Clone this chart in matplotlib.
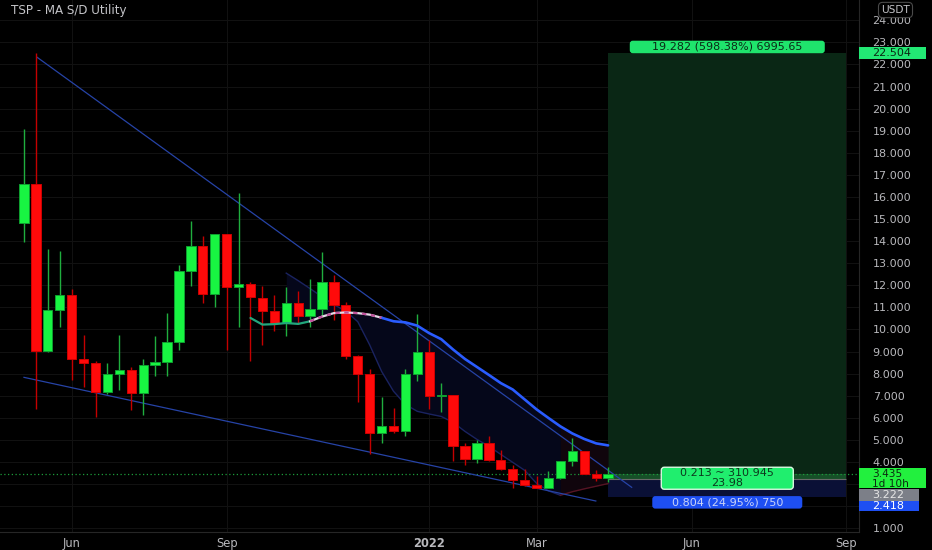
import numpy as np
import matplotlib
matplotlib.use("Agg")
import matplotlib.pyplot as plt
from matplotlib.patches import Rectangle, FancyBboxPatch

# ---------------- data ----------------
title = "TSP - MA S/D Utility"

# weekly candles starting 2021-05-03 (bar index 0)
opens = [14.84, 16.59, 9.04, 10.86, 11.54, 8.68, 8.47, 7.18, 7.99, 8.18,
         7.13, 8.37, 8.52, 9.44, 12.66, 13.79, 11.62, 14.32, 11.92, 12.07,
         11.44, 10.85, 10.30, 11.18, 10.59, 10.93, 12.13, 11.11, 8.79, 7.99,
         5.32, 5.63, 5.38, 7.96, 8.98, 6.98, 7.01, 4.72, 4.14, 4.84,
         4.08, 3.69, 3.17, 2.96, 2.84, 3.29, 4.05, 4.50, 3.46, 3.26]
highs = [19.07, 22.50, 13.64, 13.53, 11.85, 9.73, 8.56, 8.50, 9.77, 8.30,
         8.64, 9.69, 10.75, 12.93, 14.90, 14.21, 14.32, 14.32, 16.17, 12.13,
         11.98, 11.56, 11.92, 11.75, 12.28, 13.49, 12.48, 11.23, 8.83, 8.23,
         6.95, 6.45, 8.23, 10.72, 9.51, 7.58, 7.01, 4.87, 4.98, 5.16,
         4.52, 3.86, 3.69, 3.34, 3.59, 4.05, 5.07, 4.50, 3.62, 3.79]
lows = [13.94, 6.38, 8.97, 10.10, 7.69, 7.40, 6.03, 7.06, 7.28, 6.35,
        6.11, 7.88, 7.91, 9.09, 11.98, 11.20, 11.00, 9.09, 10.10, 8.56,
        9.31, 9.92, 9.72, 10.26, 10.10, 10.59, 10.44, 8.68, 6.71, 4.34,
        4.87, 5.32, 5.17, 7.66, 6.38, 6.27, 4.04, 3.86, 3.94, 4.05,
        3.63, 2.84, 2.92, 2.80, 2.84, 3.21, 3.81, 3.46, 3.14, 3.09]
closes = [16.59, 9.04, 10.86, 11.54, 8.68, 8.47, 7.18, 7.99, 8.18, 7.13,
          8.37, 8.53, 9.44, 12.66, 13.79, 11.62, 14.32, 11.91, 12.07, 11.45,
          10.85, 10.30, 11.18, 10.59, 10.93, 12.13, 11.11, 8.79, 7.99, 5.32,
          5.63, 5.38, 7.96, 8.98, 6.98, 7.02, 4.72, 4.14, 4.84, 4.08,
          3.69, 3.17, 2.96, 2.84, 3.29, 4.05, 4.50, 3.46, 3.26, 3.435]

# moving average lines
ma_fast_start = 19
ma_fast = [10.52, 10.22, 10.24, 10.29, 10.25, 10.37, 10.58, 10.74, 10.77, 10.74,
           10.67, 10.53, 10.37, 10.32, 10.17, 9.83, 9.56, 9.09, 8.66, 8.30,
           7.94, 7.57, 7.28, 6.83, 6.38, 5.99, 5.61, 5.29, 5.04, 4.84, 4.75]
ma_fast_teal_end = 24
ma_fast_pink_end = 30
ma_slow_start = 22
ma_slow = [12.55, 12.21, 11.85, 11.48, 11.12, 10.83, 10.35, 9.30, 8.10, 7.20,
           6.60, 6.29, 6.17, 6.06, 5.79, 5.38, 5.02, 4.71, 4.34, 3.98,
           3.62, 3.03, 2.69, 2.49, 2.65, 2.78, 2.90, 3.02]
ma_slow_red_start = 45

# trend lines (bar index, price)
upper_trend_x = [1.09, 50.98]
upper_trend_y = [22.33, 2.85]
lower_trend_x = [0.0, 47.97]
lower_trend_y = [7.83, 2.23]

# long position tool
pos_start, pos_end = 49, 69
entry_price, target_price, stop_price, last_price = 3.222, 22.504, 2.418, 3.435
target_text = "19.282 (598.38%) 6995.65"
open_text = "0.213 ~ 310.945\n23.98"
stop_text = "0.804 (24.95%) 750"
countdown_text = "1d 10h"

month_ticks = [4, 17, 34, 43, 56, 69]
month_labels = ["Jun", "Sep", "2022", "Mar", "Jun", "Sep"]
price_ticks = list(range(1, 25))
hidden_price_ticks = [2, 3]   # covered by the price tags in the reference

# ---------------- style ----------------
BG = "#000000"
GRID = "#111111"
TXT = "#b8b8bc"
UP, DN = "#18f542", "#ff0a0a"
UP_EDGE, DN_EDGE = "#0fa030", "#d00000"
UP_WICK, DN_WICK = "#1fae3e", "#c40000"

W, H = 932, 550
fig = plt.figure(figsize=(W / 100, H / 100), dpi=100, facecolor=BG)
plot_left, plot_right, plot_bottom = 0, 859, 531.7
ax = fig.add_axes([plot_left / W, (H - plot_bottom) / H, (plot_right - plot_left) / W, plot_bottom / H])
ax.set_facecolor(BG)

ymin, ymax = 0.84, 24.92
xmin, xmax = -2.013, 70.05
ax.set_xlim(xmin, xmax)
ax.set_ylim(ymin, ymax)
ax_w_px = plot_right - plot_left
ax_h_px = plot_bottom
upx = (xmax - xmin) / ax_w_px   # bars per pixel
upy = (ymax - ymin) / ax_h_px   # price per pixel

# grid & axes
ax.set_yticks(price_ticks)
ax.set_yticklabels(["" if v in hidden_price_ticks else f"{v:.3f}" for v in price_ticks])
ax.yaxis.tick_right()
ax.tick_params(axis="y", length=0, pad=9.8, labelsize=8, labelcolor=TXT)
ax.set_xticks(month_ticks)
ax.set_xticklabels(month_labels)
ax.tick_params(axis="x", length=0, pad=3.5, labelsize=8.3, labelcolor=TXT)
for lbl in ax.get_xticklabels():
    if lbl.get_text().isdigit():
        lbl.set_fontweight("bold")
ax.grid(True, color=GRID, lw=0.8, zorder=0)
ax.set_axisbelow(True)
for s in ["top", "left"]:
    ax.spines[s].set_visible(False)
for s in ["right", "bottom"]:
    ax.spines[s].set_color("#262626")
    ax.spines[s].set_linewidth(0.8)

x = np.arange(len(opens))
o = np.array(opens); c = np.array(closes)
hi = np.array(highs); lo = np.array(lows)
up = c >= o

# position tool zones
ax.add_patch(Rectangle((pos_start, entry_price), pos_end - pos_start, target_price - entry_price,
                       facecolor="#0a2715", edgecolor="none", zorder=1))
ax.add_patch(Rectangle((pos_start, entry_price), pos_end - pos_start, last_price - entry_price,
                       facecolor="#164f28", edgecolor="none", zorder=1.1))
ax.add_patch(Rectangle((pos_start, stop_price), pos_end - pos_start, entry_price - stop_price,
                       facecolor="#0a1036", edgecolor="none", zorder=1))
ax.hlines(entry_price, pos_start, pos_end, color="#6a6a6a", lw=0.8, zorder=1.2)

# fill between MAs
xf = np.arange(ma_fast_start, ma_fast_start + len(ma_fast))
xs = np.arange(ma_slow_start, ma_slow_start + len(ma_slow))
fast_arr = np.array(ma_fast)
slow_arr = np.array(ma_slow)
fast_on_slow = fast_arr[ma_slow_start - ma_fast_start:]
m1 = xs <= ma_slow_red_start
m2 = xs >= ma_slow_red_start
ax.fill_between(xs[m1], fast_on_slow[m1], slow_arr[m1], color="#05071a", lw=0, zorder=1.3)
ax.fill_between(xs[m2], fast_on_slow[m2], slow_arr[m2], color="#10050c", lw=0, zorder=1.3)

# slow MA
ax.plot(xs[m1], slow_arr[m1], color="#1a2360", lw=1.0, zorder=2)
ax.plot(xs[m2], slow_arr[m2], color="#561424", lw=1.0, zorder=2)

# trend lines
ax.plot(upper_trend_x, upper_trend_y, color="#2643a6", lw=0.9, zorder=2.2)
ax.plot(lower_trend_x, lower_trend_y, color="#2643a6", lw=0.9, zorder=2.2)

# current price dotted line
ax.axhline(last_price, color="#1c9c3a", ls=(0, (1, 2)), lw=0.9, zorder=2.1)

# fast MA (colored segments)
mt = xf <= ma_fast_teal_end
mp = (xf >= ma_fast_teal_end) & (xf <= ma_fast_pink_end)
mb = xf >= ma_fast_pink_end
ax.plot(xf[mt], fast_arr[mt], color="#22a77c", lw=1.6, zorder=5, solid_capstyle="round")
ax.plot(xf[mp], fast_arr[mp], color="#e4dde6", lw=1.6, zorder=5)
ax.plot(xf[mp], fast_arr[mp], color="#c0509a", lw=1.6, ls=(0, (2, 2)), zorder=5.1)
ax.plot(xf[mb], fast_arr[mb], color="#2a5cff", lw=1.9, zorder=5, solid_capstyle="round")

# candles
ax.vlines(x[up], lo[up], hi[up], colors=UP_WICK, lw=1.0, zorder=3)
ax.vlines(x[~up], lo[~up], hi[~up], colors=DN_WICK, lw=1.0, zorder=3)
body_h = np.maximum(np.abs(c - o), 1.2 * upy)
body_b = np.minimum(o, c)
ax.bar(x[up], body_h[up], bottom=body_b[up], width=0.78, color=UP, edgecolor=UP_EDGE, lw=0.7, zorder=4)
ax.bar(x[~up], body_h[~up], bottom=body_b[~up], width=0.78, color=DN, edgecolor=DN_EDGE, lw=0.7, zorder=4)

# position labels
asp = upy / upx
def label_box(axis, cx, cy, wpx, hpx, fc, ec, lw, text, tc, fs, rad_px=3):
    w = wpx * upx
    h = hpx * upy
    p = FancyBboxPatch((cx - w / 2, cy - h / 2), w, h,
                       boxstyle="round,pad=0,rounding_size=%f" % (rad_px * upx),
                       mutation_aspect=asp, facecolor=fc, edgecolor=ec, lw=lw, zorder=8)
    axis.add_patch(p)
    axis.text(cx, cy, text, ha="center", va="center", color=tc, fontsize=fs,
              linespacing=0.95, zorder=9)

cx_pos = (pos_start + pos_end) / 2
label_box(ax, cx_pos, target_price + 6.4 * upy, 195, 12.5, "#1fe46c", "none", 0,
          target_text, "#0b2a16", 8)
label_box(ax, cx_pos, entry_price + 0.5 * (last_price - entry_price) - 1.5 * upy, 132, 22, "#20ee6e", "#d8f8e0", 1.0,
          open_text, "#0d3a1e", 8)
label_box(ax, cx_pos, stop_price - 5.5 * upy, 150, 12.5, "#1e4ff2", "none", 0,
          stop_text, "#c9d3f7", 8)

# title
fig.text(11 / W, 1 - 10.5 / H, title, color="#c4c4c8", fontsize=8.6, ha="left", va="center")

# price scale overlay
axr = fig.add_axes([plot_right / W, (H - plot_bottom) / H, (W - plot_right) / W, plot_bottom / H], sharey=ax)
axr.set_xlim(0, W - plot_right)
axr.axis("off")

def price_box(value, off_px, hpx, wpx, fc, text, tc):
    center = value - off_px * upy
    axr.add_patch(Rectangle((0, center - hpx / 2 * upy), wpx, hpx * upy, facecolor=fc, edgecolor="none", zorder=5))
    axr.text(13.5, center, text, ha="left", va="center", color=tc, fontsize=8, zorder=6)

# target
price_box(target_price, 0, 12, 67, "#22e874", f"{target_price:.3f}", "#0b2a14")
# last price + countdown
axr.add_patch(Rectangle((0, last_price - 13.6 * upy), 67, 20 * upy, facecolor="#22f03e", edgecolor="none", zorder=5))
axr.text(13.5, last_price + 5.0 * upy, f"{last_price:.3f}\n{countdown_text}", ha="left", va="top",
         color="#0b2a10", fontsize=7.6, linespacing=0.92, zorder=6)
# entry
price_box(entry_price, 16, 12, 60, "#7c7f88", f"{entry_price:.3f}", "#e6e6e6")
# stop
price_box(stop_price, 9, 10.5, 60, "#1e4ff2", f"{stop_price:.3f}", "#ffffff")

# currency tag
fig.text(895.5 / W, 1 - 10 / H, "USDT", color="#c4c4c8", fontsize=7.6, ha="center", va="center",
         bbox=dict(boxstyle="round,pad=0.25,rounding_size=0.4", facecolor=BG, edgecolor="#4a4a4a", lw=0.8))

fig.savefig("out.png", dpi=100, facecolor=BG)
